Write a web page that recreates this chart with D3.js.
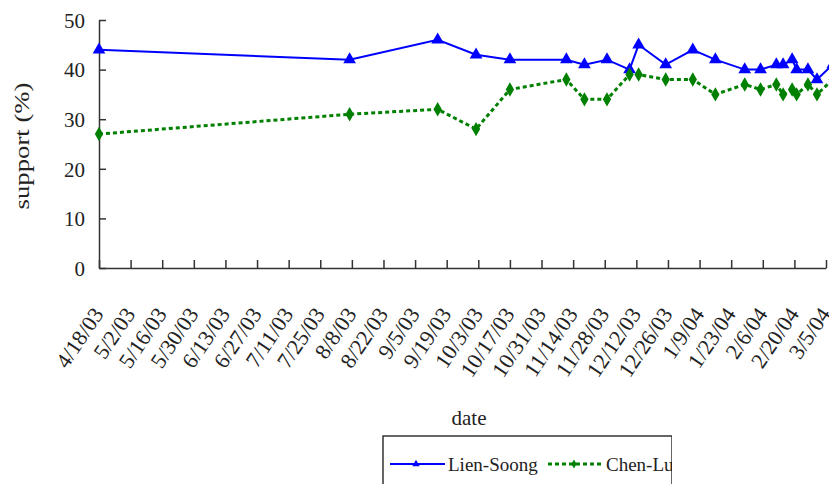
<!DOCTYPE html>
<html>
<head>
<meta charset="utf-8">
<script src="https://cdn.jsdelivr.net/npm/d3@7"></script>
<style>
  body { margin: 0; background: #fff; }
  svg { display: block; }
  .axis path, .axis line { stroke: #333; stroke-width: 1.5px; }
  .axis text { fill: #222; }
</style>
</head>
<body>
<div id="chart-area"></div>
<script>
// poll dates (same for both series)
var dates = ["4/18/03", "8/7/03", "9/15/03", "10/2/03", "10/17/03", "11/11/03",
    "11/19/03", "11/29/03", "12/9/03", "12/13/03", "12/25/03", "1/6/04",
    "1/16/04", "1/29/04", "2/5/04", "2/12/04", "2/15/04", "2/19/04",
    "2/21/04", "2/26/04", "3/1/04", "3/8/04"];

var lienSoong = [44, 42, 46, 43, 42, 42, 41, 42, 40, 45, 41, 44,
    42, 40, 40, 41, 41, 42, 40, 40, 38, 41];

var chenLu = [27, 31, 32, 28, 36, 38, 34, 34, 39, 39, 38, 38,
    35, 37, 36, 37, 35, 36, 35, 37, 35, 38];

var tickLabels = ["4/18/03", "5/2/03", "5/16/03", "5/30/03", "6/13/03", "6/27/03",
    "7/11/03", "7/25/03", "8/8/03", "8/22/03", "9/5/03", "9/19/03", "10/3/03",
    "10/17/03", "10/31/03", "11/14/03", "11/28/03", "12/12/03", "12/26/03",
    "1/9/04", "1/23/04", "2/6/04", "2/20/04", "3/5/04"];

var yTicks = [0, 10, 20, 30, 40, 50];

var serif = "'Liberation Serif', 'Times New Roman', serif";

var margin = { left: 99, right: 3, top: 20, bottom: 216 };
var width = 829 - margin.left - margin.right,
    height = 484 - margin.top - margin.bottom;

var parse = d3.timeParse("%m/%d/%y");

var svg = d3.select("#chart-area")
    .append("svg")
    .attr("width", 829)
    .attr("height", 484)
    .attr("font-family", serif);

var g = svg.append("g")
    .attr("transform", "translate(" + margin.left + ", " + margin.top + ")");

var tickDates = tickLabels.map(parse);

var x = d3.scaleTime()
    .domain([tickDates[0], tickDates[tickDates.length - 1]])
    .range([0, width]);

var y = d3.scaleLinear()
    .domain([0, 50])
    .range([height, 0]);

// Y axis (ticks point inward)
var yAxisCall = d3.axisLeft(y)
    .tickValues(yTicks)
    .tickSize(-7)
    .tickPadding(14)
    .tickSizeOuter(0);
g.append("g")
    .attr("class", "y axis")
    .call(yAxisCall)
    .attr("font-family", serif)
    .selectAll("text")
    .attr("font-size", "21px")
    .attr("dy", "0.35em");

// X axis (ticks point up)
var xAxisCall = d3.axisBottom(x)
    .tickValues(tickDates)
    .tickSize(-8)
    .tickSizeOuter(0)
    .tickFormat(function (d, i) { return tickLabels[i]; });
g.append("g")
    .attr("class", "x axis")
    .attr("transform", "translate(0, " + height + ")")
    .call(xAxisCall)
    .attr("font-family", serif)
    .selectAll("text")
    .attr("font-size", "22px")
    .attr("text-anchor", "end")
    .attr("x", 0)
    .attr("y", 0)
    .attr("dy", 0)
    .attr("transform", "translate(5, 46) rotate(-56)");

// labels
g.append("text")
    .attr("x", -126)
    .attr("y", -70)
    .attr("font-size", "21px")
    .attr("textLength", 127)
    .attr("lengthAdjust", "spacingAndGlyphs")
    .attr("fill", "#222")
    .attr("text-anchor", "middle")
    .attr("transform", "rotate(-90)")
    .text("support (%)");

g.append("text")
    .attr("x", 370)
    .attr("y", 425 - margin.top)
    .attr("font-size", "21px")
    .attr("fill", "#222")
    .attr("text-anchor", "middle")
    .text("date");

var series = [
    { name: "Lien-Soong", values: lienSoong, color: "#0000ff", dash: null, width: 2, shape: d3.symbolTriangle, size: 70 },
    { name: "Chen-Lu", values: chenLu, color: "#008000", dash: "4,3", width: 3, shape: d3.symbolDiamond, size: 60 }
];

var line = d3.line()
    .x(function (d) { return x(d.date); })
    .y(function (d) { return y(d.value); });

series.forEach(function (s) {
    var pts = dates.map(function (dt, i) {
        return { date: parse(dt), value: s.values[i] };
    });

    g.append("path")
        .datum(pts)
        .attr("fill", "none")
        .attr("stroke", s.color)
        .attr("stroke-width", s.width)
        .attr("stroke-dasharray", s.dash)
        .attr("d", line);

    g.selectAll(".pt-" + s.name)
        .data(pts)
        .enter()
        .append("path")
        .attr("transform", function (d) {
            return "translate(" + x(d.date) + "," + y(d.value) + ")";
        })
        .attr("d", d3.symbol().type(s.shape).size(s.size))
        .attr("fill", s.color);
});

// legend (box runs off the bottom, text clipped at its right edge)
svg.append("clipPath")
    .attr("id", "legend-clip")
    .append("rect")
    .attr("x", 382)
    .attr("y", 435)
    .attr("width", 290)
    .attr("height", 60);

var legend = svg.append("g").attr("clip-path", "url(#legend-clip)");

legend.append("rect")
    .attr("x", 383)
    .attr("y", 436)
    .attr("width", 289)
    .attr("height", 60)
    .attr("fill", "#fff")
    .attr("stroke", "#333")
    .attr("stroke-width", 1.5);

var legendX = [390, 548];
series.forEach(function (s, i) {
    var lx = legendX[i];
    legend.append("line")
        .attr("x1", lx)
        .attr("x2", lx + 55)
        .attr("y1", 464)
        .attr("y2", 464)
        .attr("stroke", s.color)
        .attr("stroke-width", s.width)
        .attr("stroke-dasharray", s.dash);
    legend.append("path")
        .attr("transform", "translate(" + (lx + 26) + ",464)")
        .attr("d", d3.symbol().type(s.shape).size(24))
        .attr("fill", s.color);
    legend.append("text")
        .attr("x", lx + 58)
        .attr("y", 471)
        .attr("font-size", "19px")
        .attr("fill", "#222")
        .text(s.name);
});
</script>
</body>
</html>
